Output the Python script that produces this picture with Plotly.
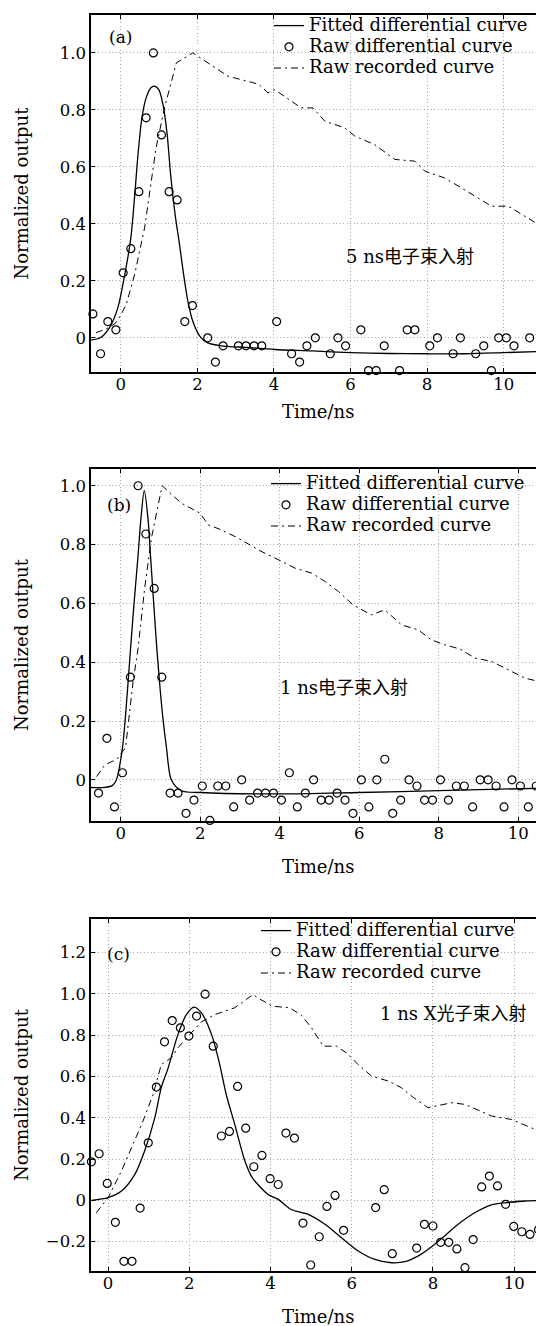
import plotly.graph_objects as go

# ---------------- data ----------------
# Panel (a): 5 ns electron beam
a_raw_t = [-0.73, -0.53, -0.34, -0.13, 0.06, 0.26, 0.47, 0.66, 0.85, 1.06, 1.26, 1.47,
           1.67, 1.87, 2.27, 2.47, 2.67, 3.07, 3.27, 3.48, 3.68, 4.07, 4.46, 4.67,
           4.86, 5.08, 5.47, 5.67, 5.87, 6.27, 6.47, 6.67, 6.88, 7.28, 7.48, 7.68,
           8.07, 8.27, 8.68, 8.87, 9.27, 9.48, 9.68, 9.87, 10.07, 10.27, 10.68, 11.08]
a_raw_v = [0.084, -0.056, 0.057, 0.028, 0.228, 0.313, 0.513, 0.772, 1.0, 0.712, 0.513, 0.484,
           0.057, 0.113, 0.0, -0.085, -0.028, -0.028, -0.028, -0.028, -0.028, 0.057, -0.056, -0.085,
           -0.028, 0.0, -0.056, 0.0, -0.028, 0.028, -0.115, -0.115, -0.028, -0.115, 0.028, 0.028,
           -0.028, 0.0, -0.056, 0.0, -0.056, -0.028, -0.115, 0.0, 0.0, -0.028, 0.0, 0.0]
a_fit_t = [-0.78, -0.54, -0.30, -0.08, 0.11, 0.26, 0.37, 0.44, 0.55, 0.66, 0.78, 0.88, 0.99,
           1.10, 1.21, 1.30, 1.42, 1.53, 1.64, 1.75, 1.88, 2.06, 2.27, 2.62, 3.3, 4.02, 5.0,
           6.0, 7.0, 8.0, 9.0, 10.0, 11.1]
a_fit_v = [-0.008, 0.0, 0.035, 0.105, 0.228, 0.35, 0.513, 0.632, 0.772, 0.842, 0.877, 0.883, 0.871,
           0.819, 0.713, 0.573, 0.43, 0.33, 0.222, 0.129, 0.058, 0.006, -0.018, -0.028, -0.034, -0.041, -0.046,
           -0.052, -0.055, -0.056, -0.056, -0.052, -0.047]
a_rec_t = [-0.65, -0.40, -0.15, 0.0, 0.14, 0.36, 0.62, 0.92, 1.14, 1.32, 1.45, 1.88, 2.27,
           2.80, 3.15, 3.60, 3.84, 4.02, 4.71, 5.02, 5.33, 5.85, 6.11, 6.63, 7.16, 7.68, 7.94,
           8.46, 8.90, 9.33, 9.68, 10.12, 10.55, 10.88]
a_rec_v = [0.018, 0.03, 0.05, 0.08, 0.117, 0.222, 0.386, 0.667, 0.807, 0.90, 0.965, 1.0, 0.965,
           0.918, 0.906, 0.89, 0.86, 0.871, 0.807, 0.807, 0.76, 0.737, 0.708, 0.678, 0.626, 0.62, 0.585,
           0.561, 0.526, 0.491, 0.462, 0.462, 0.427, 0.40]

# Panel (b): 1 ns electron beam
b_raw_t = [-0.56, -0.35, -0.16, 0.04, 0.24, 0.435, 0.63, 0.84, 1.03, 1.24, 1.44, 1.64,
           1.84, 2.05, 2.24, 2.44, 2.64, 2.84, 3.04, 3.24, 3.44, 3.64, 3.84, 4.04,
           4.24, 4.44, 4.64, 4.85, 5.04, 5.24, 5.44, 5.64, 5.84, 6.05, 6.24, 6.44,
           6.64, 6.84, 7.04, 7.25, 7.45, 7.64, 7.84, 8.04, 8.24, 8.44, 8.64, 8.85,
           9.04, 9.24, 9.44, 9.64, 9.84, 10.05, 10.25, 10.45, 10.64]
b_raw_v = [-0.045, 0.141, -0.092, 0.024, 0.349, 1.0, 0.836, 0.651, 0.349, -0.045, -0.045, -0.114,
           -0.069, -0.021, -0.138, -0.021, -0.021, -0.092, 0.0, -0.069, -0.045, -0.045, -0.045, -0.069,
           0.024, -0.092, -0.045, 0.0, -0.069, -0.069, -0.045, -0.069, -0.114, 0.0, -0.092, 0.0,
           0.070, -0.114, -0.069, 0.0, -0.021, -0.069, -0.069, 0.0, -0.069, -0.021, -0.021, -0.092,
           0.0, 0.0, -0.021, -0.092, 0.0, -0.021, -0.092, -0.021, 0.024]
b_fit_t = [-0.75, -0.40, -0.20, -0.11, 0.04, 0.12, 0.23, 0.33, 0.435, 0.50, 0.59, 0.69, 0.745,
           0.83, 0.91, 1.05, 1.15, 1.27, 1.52, 2.0, 4.0, 6.0, 8.0, 10.67]
b_fit_v = [-0.026, -0.026, -0.018, 0.0, 0.108, 0.221, 0.42, 0.595, 0.765, 0.879, 0.983, 0.879, 0.765,
           0.595, 0.44, 0.221, 0.108, 0.0, -0.037, -0.043, -0.048, -0.043, -0.037, -0.028]
b_rec_t = [-0.61, -0.40, -0.10, 0.12, 0.31, 0.435, 0.60, 0.77, 0.94, 1.04, 1.52, 1.99, 2.20,
           2.53, 2.95, 3.50, 4.06, 4.38, 4.80, 5.13, 5.47, 5.84, 6.30, 6.64, 7.06, 7.48, 7.81,
           8.15, 8.53, 8.91, 9.32, 9.70, 10.16, 10.50]
b_rec_v = [0.011, 0.051, 0.07, 0.11, 0.335, 0.448, 0.652, 0.822, 0.935, 1.0, 0.941, 0.907, 0.867,
           0.850, 0.822, 0.779, 0.742, 0.72, 0.703, 0.675, 0.641, 0.595, 0.561, 0.578, 0.527, 0.510, 0.476,
           0.459, 0.445, 0.414, 0.403, 0.378, 0.346, 0.335]

# Panel (c): 1 ns X-ray photon beam
c_raw_t = [-0.41, -0.22, -0.02, 0.18, 0.39, 0.59, 0.79, 0.99, 1.19, 1.39, 1.58, 1.78,
           1.99, 2.18, 2.39, 2.59, 2.79, 2.99, 3.19, 3.39, 3.59, 3.79, 3.99, 4.19,
           4.38, 4.59, 4.80, 4.99, 5.20, 5.39, 5.59, 5.80, 6.59, 6.80, 7.00, 7.60,
           7.79, 8.00, 8.19, 8.39, 8.59, 8.79, 8.99, 9.20, 9.39, 9.59, 9.79, 9.99,
           10.19, 10.39, 10.60]
c_raw_v = [0.187, 0.226, 0.082, -0.106, -0.295, -0.295, -0.037, 0.279, 0.549, 0.768, 0.871, 0.836,
           0.796, 0.893, 0.999, 0.747, 0.312, 0.334, 0.552, 0.350, 0.163, 0.218, 0.105, 0.077,
           0.326, 0.302, -0.110, -0.313, -0.176, -0.029, 0.024, -0.145, -0.035, 0.052, -0.258, -0.231,
           -0.116, -0.124, -0.203, -0.203, -0.235, -0.326, -0.190, 0.065, 0.118, 0.070, -0.019, -0.126,
           -0.152, -0.165, -0.142]
c_fit_t = [-0.41, 0.0, 0.33, 0.66, 0.90, 1.15, 1.31, 1.48, 1.72, 1.93, 2.12, 2.30, 2.55, 2.75,
           2.91, 3.12, 3.37, 3.55, 3.69, 3.94, 4.19, 4.51, 4.93, 5.34, 5.75, 6.16, 6.57, 6.98,
           7.31, 7.64, 7.96, 8.29, 8.62, 9.03, 9.44, 9.81, 10.26, 10.73]
c_fit_v = [0.0, 0.013, 0.045, 0.126, 0.239, 0.40, 0.546, 0.642, 0.803, 0.900, 0.936, 0.908, 0.803, 0.658,
           0.513, 0.368, 0.191, 0.11, 0.077, 0.029, 0.005, -0.044, -0.068, -0.116, -0.181, -0.245, -0.286, -0.302,
           -0.297, -0.269, -0.226, -0.172, -0.116, -0.060, -0.022, -0.011, -0.003, 0.0]
c_rec_t = [-0.29, 0.0, 0.33, 0.62, 0.86, 1.11, 1.31, 1.56, 1.72, 2.01, 2.30, 2.63, 3.12, 3.57,
           3.69, 4.04, 4.47, 4.76, 5.01, 5.30, 5.62, 5.87, 6.16, 6.49, 6.90, 7.22, 7.53, 7.88,
           8.46, 8.79, 9.44, 9.93, 10.43, 10.71]
c_rec_v = [-0.06, 0.013, 0.142, 0.271, 0.384, 0.513, 0.658, 0.691, 0.739, 0.803, 0.865, 0.900, 0.933, 0.997,
           0.981, 0.941, 0.933, 0.897, 0.836, 0.747, 0.747, 0.715, 0.658, 0.602, 0.578, 0.546, 0.497, 0.449,
           0.473, 0.465, 0.409, 0.392, 0.352, 0.328]

x_tickvals = [0, 2, 4, 6, 8, 10]
x_ticktext = ["0", "2", "4", "6", "8", "10"]
ab_y_tickvals = [0, 0.2, 0.4, 0.6, 0.8, 1.0]
ab_y_ticktext = ["0", "0.2", "0.4", "0.6", "0.8", "1.0"]
c_y_tickvals = [-0.2, 0, 0.2, 0.4, 0.6, 0.8, 1.0, 1.2]
c_y_ticktext = ["\u22120.2", "0", "0.2", "0.4", "0.6", "0.8", "1.0", "1.2"]

legend_names = ["Fitted differential curve", "Raw differential curve", "Raw recorded curve"]
panel_tags = ["(a)", "(b)", "(c)"]
panel_notes = ["5 ns电子束入射", "1 ns电子束入射", "1 ns X光子束入射"]
x_title = "Time/ns"
y_title = "Normalized output"

# ---------------- layout geometry ----------------
W, H = 544, 1326
FONT = "DejaVu Serif, Noto Sans CJK SC, serif"


def py(p):
    return 1 - p / H


def big(s):
    return f'<span style="font-size:18px">{s}</span>'


x_dom = [83 / W, 537 / W]
panels = [
    dict(fit=(a_fit_t, a_fit_v), raw=(a_raw_t, a_raw_v), rec=(a_rec_t, a_rec_v),
         ydom=[py(364), py(7)], xr=[-0.78, 11.08], yr=[-0.12, 1.133],
         ytv=ab_y_tickvals, ytt=ab_y_ticktext, leg=(261, 2),
         tag=(0.0, 1.056), note=(7.55, 0.285), xtitle_y=403, center=185.5),
    dict(fit=(b_fit_t, b_fit_v), raw=(b_raw_t, b_raw_v), rec=(b_rec_t, b_rec_v),
         ydom=[py(813), py(461)], xr=[-0.75, 10.67], yr=[-0.14, 1.057],
         ytv=ab_y_tickvals, ytt=ab_y_ticktext, leg=(258, 460),
         tag=(-0.05, 0.935), note=(5.62, 0.315), xtitle_y=858, center=637),
    dict(fit=(c_fit_t, c_fit_v), raw=(c_raw_t, c_raw_v), rec=(c_rec_t, c_rec_v),
         ydom=[py(1263), py(911)], xr=[-0.42, 10.76], yr=[-0.342, 1.363],
         ytv=c_y_tickvals, ytt=c_y_ticktext, leg=(248, 907),
         tag=(0.25, 1.194), note=(8.5, 0.905), xtitle_y=1308, center=1087),
]

fig = go.Figure()
annotations = []
layout = dict(
    width=W, height=H, margin=dict(l=0, r=0, t=0, b=0),
    paper_bgcolor="white", plot_bgcolor="white",
    font=dict(family=FONT, color="black", size=17),
)

axis_common = dict(
    showline=True, linecolor="black", linewidth=1.5, mirror="ticks",
    ticks="inside", ticklen=4, tickwidth=1, tickcolor="black",
    showgrid=True, gridcolor="#a8a8a8", griddash="1px,2.5px", gridwidth=1,
    zeroline=False, tickfont=dict(family=FONT, size=16.5, color="black"),
)

for i, p in enumerate(panels):
    n = i + 1
    xa = "x" if n == 1 else f"x{n}"
    ya = "y" if n == 1 else f"y{n}"
    legname = "legend" if n == 1 else f"legend{n}"

    fig.add_trace(go.Scatter(
        x=p["fit"][0], y=p["fit"][1], mode="lines", name=big(legend_names[0]),
        line=dict(color="black", width=1.3, shape="spline", smoothing=0.8),
        xaxis=xa, yaxis=ya, legend=legname))
    fig.add_trace(go.Scatter(
        x=p["raw"][0], y=p["raw"][1], mode="markers", name=big(legend_names[1]),
        marker=dict(symbol="circle-open", size=8, color="black", line=dict(width=1.2, color="black")),
        cliponaxis=False, xaxis=xa, yaxis=ya, legend=legname))
    fig.add_trace(go.Scatter(
        x=p["rec"][0], y=p["rec"][1], mode="lines", name=big(legend_names[2]),
        line=dict(color="black", width=1.0, dash="7px,4px,2px,4px"),
        xaxis=xa, yaxis=ya, legend=legname))

    xkey = "xaxis" if n == 1 else f"xaxis{n}"
    ykey = "yaxis" if n == 1 else f"yaxis{n}"
    layout[xkey] = dict(axis_common, domain=x_dom, range=p["xr"], anchor=ya,
                        tickvals=x_tickvals, ticktext=x_ticktext, ticklabelstandoff=-4)
    layout[ykey] = dict(axis_common, domain=p["ydom"], range=p["yr"], anchor=xa,
                        tickvals=p["ytv"], ticktext=p["ytt"])
    layout[legname] = dict(
        x=p["leg"][0] / W, y=py(p["leg"][1]), xanchor="left", yanchor="top",
        bgcolor="rgba(0,0,0,0)", borderwidth=0,
        font=dict(family=FONT, size=14, color="black"),
        tracegroupgap=0,
    )

    annotations.append(dict(text=panel_tags[i], x=p["tag"][0], y=p["tag"][1], xref=xa, yref=ya,
                            showarrow=False, font=dict(family=FONT, size=17)))
    annotations.append(dict(text=panel_notes[i], x=p["note"][0], y=p["note"][1], xref=xa, yref=ya,
                            showarrow=False, font=dict(family=FONT, size=18)))
    annotations.append(dict(text=x_title, x=310 / W, y=py(p["xtitle_y"]), xref="paper", yref="paper",
                            xanchor="center", yanchor="middle",
                            showarrow=False, font=dict(family=FONT, size=18)))
    annotations.append(dict(text=y_title, x=13 / W, y=py(p["center"]), xref="paper", yref="paper",
                            xanchor="center", yanchor="middle",
                            textangle=-90, showarrow=False, font=dict(family=FONT, size=18)))

layout["annotations"] = annotations
fig.update_layout(**layout)
fig.write_html("out.html")
